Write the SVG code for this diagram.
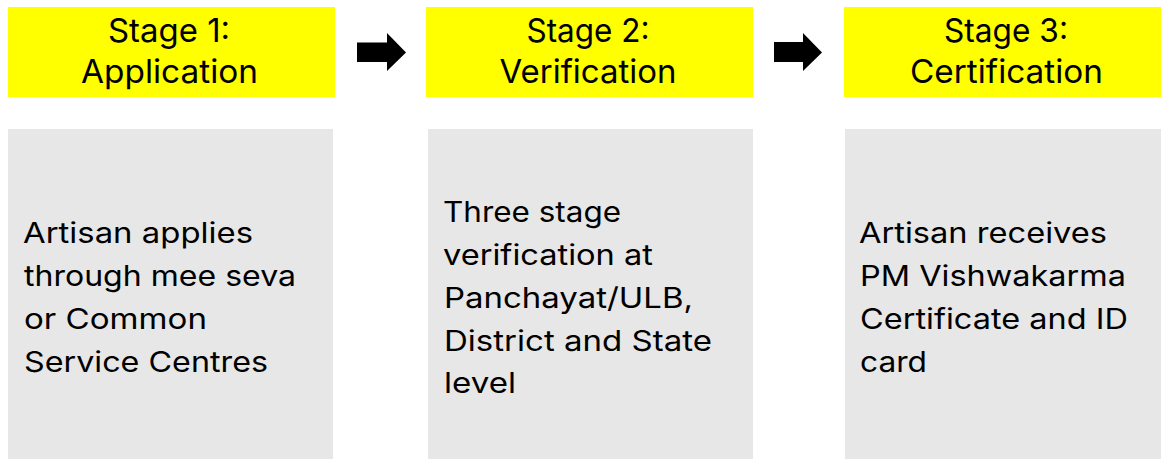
<svg xmlns="http://www.w3.org/2000/svg" width="1161" height="459" viewBox="0 0 1161 459">
<style>
.hdr{fill:#FFFF00}
.body{fill:#E7E7E7}
.ht{font-family:Inter,"Open Sans","Liberation Sans",sans-serif;font-size:33px;fill:#000;text-anchor:middle}
.bt{font-family:Inter,"Open Sans","Liberation Sans",sans-serif;font-size:28.5px;fill:#000}
.arr{fill:#000}
</style>
<rect width="1161" height="459" fill="#FFFFFF"/>
<g id="stage1-header">
<rect class="hdr" x="8" y="7" width="327" height="90"/>
<text class="ht" x="169" y="42" textLength="122" lengthAdjust="spacingAndGlyphs">Stage 1:</text>
<text class="ht" x="169.5" y="83" textLength="177" lengthAdjust="spacingAndGlyphs">Application</text>
</g>
<g id="stage2-header">
<rect class="hdr" x="426" y="7" width="327" height="90"/>
<text class="ht" x="588" y="42" textLength="123" lengthAdjust="spacingAndGlyphs">Stage 2:</text>
<text class="ht" x="588" y="83" textLength="177" lengthAdjust="spacingAndGlyphs">Verification</text>
</g>
<g id="stage3-header">
<rect class="hdr" x="844" y="7" width="327" height="90"/>
<text class="ht" x="1006" y="42" textLength="124" lengthAdjust="spacingAndGlyphs">Stage 3:</text>
<text class="ht" x="1006.5" y="83" textLength="193" lengthAdjust="spacingAndGlyphs">Certification</text>
</g>
<g id="stage1-body">
<rect class="body" x="8" y="129" width="325" height="330"/>
<text class="bt" x="23" y="243" textLength="230" lengthAdjust="spacingAndGlyphs">Artisan applies</text>
<text class="bt" x="24" y="286" textLength="272" lengthAdjust="spacingAndGlyphs">through mee seva</text>
<text class="bt" x="24" y="329" textLength="183" lengthAdjust="spacingAndGlyphs">or Common</text>
<text class="bt" x="24" y="372" textLength="244" lengthAdjust="spacingAndGlyphs">Service Centres</text>
</g>
<g id="stage2-body">
<rect class="body" x="428" y="129" width="325" height="330"/>
<text class="bt" x="443" y="222" textLength="178" lengthAdjust="spacingAndGlyphs">Three stage</text>
<text class="bt" x="443" y="265" textLength="210" lengthAdjust="spacingAndGlyphs">verification at</text>
<text class="bt" x="444" y="308" textLength="249" lengthAdjust="spacingAndGlyphs">Panchayat/ULB,</text>
<text class="bt" x="444" y="351" textLength="268" lengthAdjust="spacingAndGlyphs">District and State</text>
<text class="bt" x="444" y="393" textLength="72" lengthAdjust="spacingAndGlyphs">level</text>
</g>
<g id="stage3-body">
<rect class="body" x="845" y="129" width="325" height="330"/>
<text class="bt" x="859" y="243" textLength="248" lengthAdjust="spacingAndGlyphs">Artisan receives</text>
<text class="bt" x="860" y="286" textLength="266" lengthAdjust="spacingAndGlyphs">PM Vishwakarma</text>
<text class="bt" x="860" y="329" textLength="268" lengthAdjust="spacingAndGlyphs">Certificate and ID</text>
<text class="bt" x="860" y="372" textLength="67" lengthAdjust="spacingAndGlyphs">card</text>
</g>
<g id="connectors">
<polygon class="arr" points="357,42.5 387,42.5 387,33 406,52.5 387,71 387,62 357,62"/>
<polygon class="arr" points="774,42 803,42 803,33 822,52.5 803,71 803,62 774,62"/>
</g>
</svg>
